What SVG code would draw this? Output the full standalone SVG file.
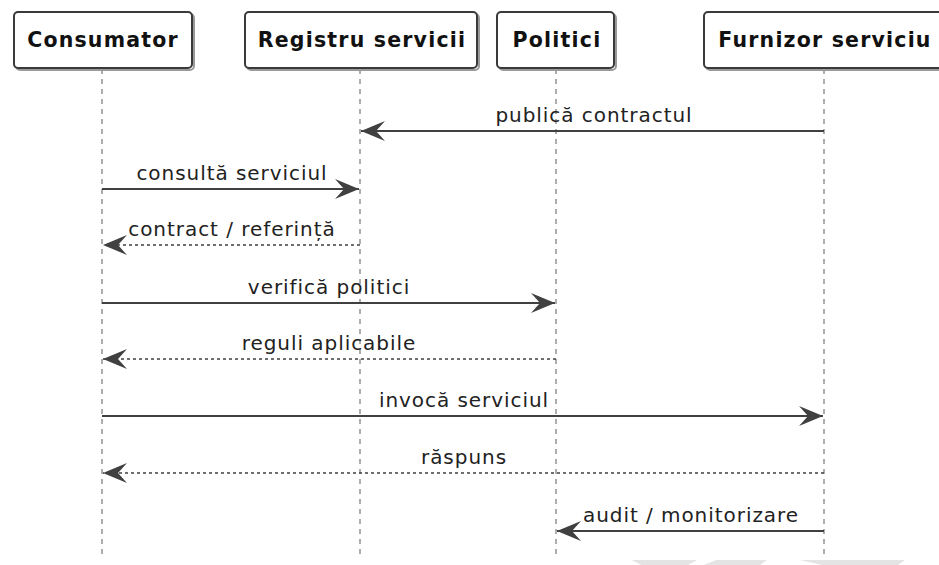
<svg xmlns="http://www.w3.org/2000/svg" width="939" height="565" viewBox="0 0 939 565">
  <style>
    .box { fill: #ffffff; stroke: #3a3a3a; stroke-width: 2; }
    .shadow { fill: none; stroke: #9a9a9a; stroke-width: 2; }
    .head { font-family: "DejaVu Sans", "Liberation Sans", sans-serif; font-weight: bold; font-size: 20.5px; letter-spacing: 1.2px; fill: #111; text-anchor: middle; }
    .life { stroke: #777; stroke-width: 1.2; stroke-dasharray: 5 5; fill: none; }
    .msg { stroke: #404040; stroke-width: 2; fill: none; }
    .ret { stroke: #404040; stroke-width: 1.5; stroke-dasharray: 3 3; fill: none; }
    .lbl { font-family: "DejaVu Sans", "Liberation Sans", sans-serif; font-size: 20px; letter-spacing: 0.95px; fill: #222; text-anchor: middle; }
    .wm { fill: #e4e4e4; }
  </style>
  <defs>
    <marker id="arrow" viewBox="0 0 26 22" refX="25" refY="11" markerWidth="26" markerHeight="22" markerUnits="userSpaceOnUse" orient="auto">
      <path d="M25,11 L1,1 L10,11 L1,21 Z" fill="#404040"/>
    </marker>
  </defs>

  <rect width="939" height="565" fill="#ffffff"/>

  <!-- lifelines -->
  <g id="lifelines">
    <line class="life" x1="102" y1="69" x2="102" y2="556"/>
    <line class="life" x1="360" y1="69" x2="360" y2="556"/>
    <line class="life" x1="556" y1="69" x2="556" y2="556"/>
    <line class="life" x1="824" y1="69" x2="824" y2="556"/>
  </g>

  <!-- participants -->
  <g id="consumator">
    <rect class="shadow" x="16" y="14" width="178" height="56" rx="4"/>
    <rect class="box" x="14" y="12" width="178" height="56" rx="4"/>
    <text class="head" x="103" y="47">Consumator</text>
  </g>
  <g id="registru">
    <rect class="shadow" x="247" y="14" width="232" height="56" rx="4"/>
    <rect class="box" x="245" y="12" width="232" height="56" rx="4"/>
    <text class="head" x="362" y="47">Registru servicii</text>
  </g>
  <g id="politici">
    <rect class="shadow" x="499" y="14" width="117" height="56" rx="4"/>
    <rect class="box" x="497" y="12" width="117" height="56" rx="4"/>
    <text class="head" x="557" y="47">Politici</text>
  </g>
  <g id="furnizor">
    <rect class="shadow" x="706" y="14" width="240" height="56" rx="4"/>
    <rect class="box" x="704" y="12" width="240" height="56" rx="4"/>
    <text class="head" x="825" y="47">Furnizor serviciu</text>
  </g>

  <!-- messages -->
  <g id="connectors">
    <line class="msg" x1="824" y1="131" x2="361" y2="131" marker-end="url(#arrow)"/>
    <line class="msg" x1="102" y1="189" x2="359" y2="189" marker-end="url(#arrow)"/>
    <line class="ret" x1="360" y1="245" x2="103" y2="245" marker-end="url(#arrow)"/>
    <line class="msg" x1="102" y1="303" x2="555" y2="303" marker-end="url(#arrow)"/>
    <line class="ret" x1="556" y1="359" x2="103" y2="359" marker-end="url(#arrow)"/>
    <line class="msg" x1="102" y1="416" x2="823" y2="416" marker-end="url(#arrow)"/>
    <line class="ret" x1="824" y1="473" x2="103" y2="473" marker-end="url(#arrow)"/>
    <line class="msg" x1="824" y1="531" x2="557" y2="531" marker-end="url(#arrow)"/>
  </g>

  <g id="labels">
    <text class="lbl" x="594" y="122">publică contractul</text>
    <text class="lbl" x="232" y="180">consultă serviciul</text>
    <text class="lbl" x="232" y="236">contract / referință</text>
    <text class="lbl" x="329" y="294">verifică politici</text>
    <text class="lbl" x="329" y="350">reguli aplicabile</text>
    <text class="lbl" x="464" y="407">invocă serviciul</text>
    <text class="lbl" x="464" y="464">răspuns</text>
    <text class="lbl" x="691" y="522">audit / monitorizare</text>
  </g>

  <!-- faint marks along the bottom edge -->
  <g id="bottom-marks">
    <polygon class="wm" points="632,560 697,560 688,565 641,565"/>
    <polygon class="wm" points="716,560 767,560 760,565 704,565"/>
    <polygon class="wm" points="800,560 905,560 898,565 822,565"/>
  </g>
</svg>
